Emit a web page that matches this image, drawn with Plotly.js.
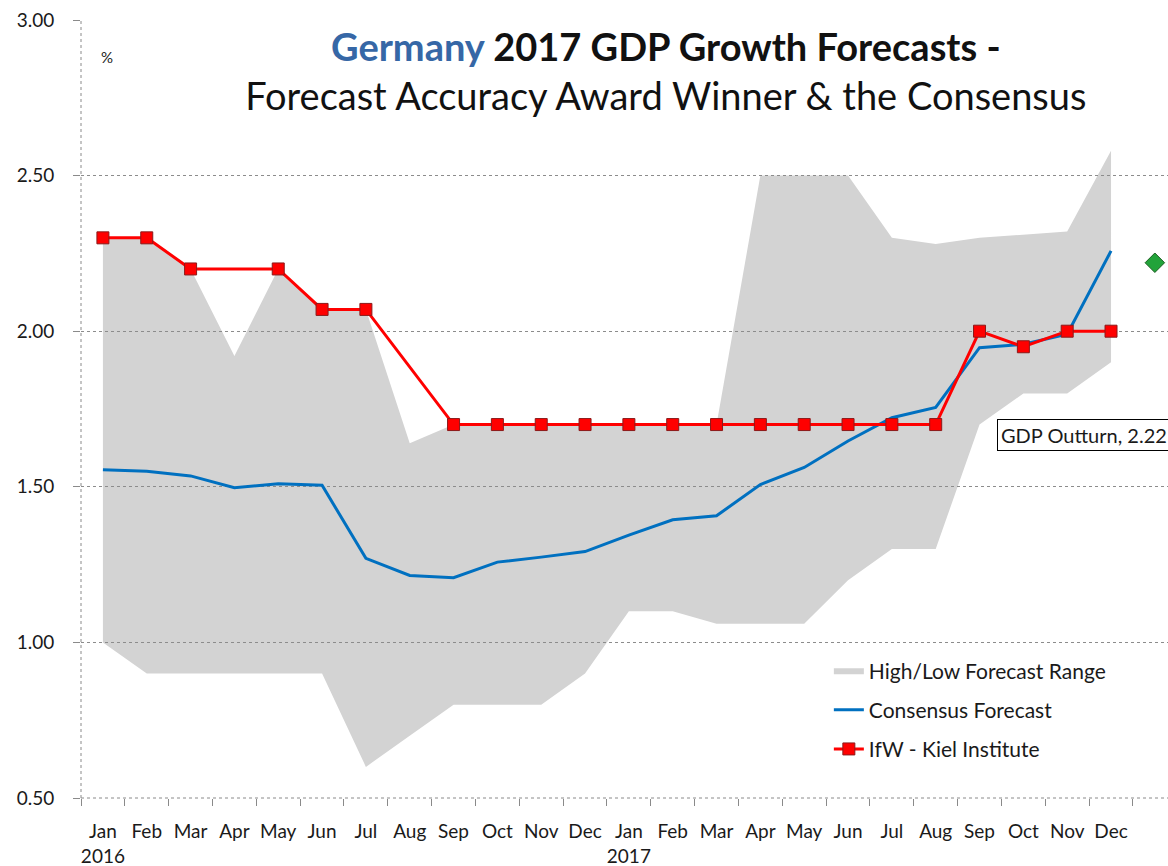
<!DOCTYPE html>
<html>
<head>
<meta charset="utf-8">
<script src="https://cdn.plot.ly/plotly-3.0.1.min.js"></script>
<style>html,body{margin:0;padding:0;background:#fff;}#chart{width:1168px;height:866px;}</style>
</head>
<body>
<div id="chart"></div>
<script>
// ---- data ----
var months = ['Jan','Feb','Mar','Apr','May','Jun','Jul','Aug','Sep','Oct','Nov','Dec',
              'Jan','Feb','Mar','Apr','May','Jun','Jul','Aug','Sep','Oct','Nov','Dec'];
var yearLabels = {0: '2016', 12: '2017'};
var rangeHigh = [2.30,2.30,2.20,1.92,2.20,2.07,2.07,1.64,1.70,1.70,1.70,1.70,
                 1.70,1.70,1.70,2.50,2.50,2.50,2.30,2.28,2.30,2.31,2.32,2.58];
var rangeLow  = [1.00,0.90,0.90,0.90,0.90,0.90,0.60,0.70,0.80,0.80,0.80,0.90,
                 1.10,1.10,1.06,1.06,1.06,1.20,1.30,1.30,1.70,1.80,1.80,1.90];
var consensus = [1.555,1.550,1.535,1.497,1.510,1.505,1.270,1.215,1.208,1.258,1.274,1.292,
                 1.345,1.394,1.407,1.507,1.562,1.647,1.722,1.755,1.947,1.958,1.990,2.258];
var ifw       = [2.30,2.30,2.20,null,2.20,2.07,2.07,null,1.70,1.70,1.70,1.70,
                 1.70,1.70,1.70,1.70,1.70,1.70,1.70,1.70,2.00,1.95,2.00,2.00];
var gdpOutturn = 2.22;
var yTicks = [0.50,1.00,1.50,2.00,2.50,3.00];

// ---- build ----
var idx = months.map(function(_, i){ return i; });
var outturnIdx = months.length;
var tickText = months.map(function(m, i){ return yearLabels[i] ? m + '<br>' + yearLabels[i] : m; });
var boundaries = [];
for (var b = 0; b <= months.length + 1; b++) boundaries.push(b - 0.5);

var polyX = idx.concat(idx.slice().reverse());
var polyY = rangeHigh.concat(rangeLow.slice().reverse());

var FONT = 'Lato, "Open Sans", sans-serif';

var traces = [
  {
    x: polyX, y: polyY, xaxis: 'x', yaxis: 'y',
    type: 'scatter', mode: 'lines', fill: 'toself',
    fillcolor: '#d3d3d3', line: {width: 0, color: '#d3d3d3'},
    name: 'High/Low Forecast Range', legendgroup: 'g1', hoverinfo: 'skip'
  },
  {
    x: idx, y: consensus, xaxis: 'x2', yaxis: 'y2',
    type: 'scatter', mode: 'lines',
    line: {color: '#0070c0', width: 3},
    name: 'Consensus Forecast', legendgroup: 'g2'
  },
  {
    x: idx, y: ifw, xaxis: 'x2', yaxis: 'y2',
    type: 'scatter', mode: 'lines+markers', connectgaps: true,
    line: {color: '#ff0000', width: 3},
    marker: {symbol: 'square', size: 12, color: '#ff0000', line: {color: '#8b1a1a', width: 1}},
    name: 'IfW - Kiel Institute', legendgroup: 'g3'
  },
  {
    x: [outturnIdx], y: [gdpOutturn], xaxis: 'x2', yaxis: 'y2',
    type: 'scatter', mode: 'markers',
    marker: {symbol: 'diamond', size: 15, color: '#22a33a', line: {color: '#1d5e22', width: 1}},
    name: 'GDP Outturn', showlegend: false
  }
];

var xr = [-0.5, 24.3];
var yr = [0.5, 3.0];

var layout = {
  width: 1168, height: 866,
  margin: {l: 81, r: 0, t: 20, b: 68},
  paper_bgcolor: '#ffffff',
  plot_bgcolor: 'rgba(0,0,0,0)',
  font: {family: FONT, color: '#1a1a1a'},
  showlegend: true,
  title: {
    text: '<b><span style="color:#3667a6">Germany</span> 2017 GDP Growth Forecasts -</b><br>Forecast Accuracy Award Winner &amp; the Consensus',
    font: {family: FONT, size: 38, color: '#111111'},
    x: 0.538, xanchor: 'center', xref: 'paper',
    y: 0.93, yanchor: 'top', yref: 'container'
  },
  xaxis: {
    range: xr, tickmode: 'array', tickvals: boundaries, showticklabels: false,
    ticks: 'outside', ticklen: 7, tickcolor: '#8a8a8a', tickwidth: 1,
    showgrid: false, zeroline: false, showline: false, fixedrange: true
  },
  yaxis: {
    range: yr, showticklabels: false, ticks: '', showgrid: false,
    zeroline: false, showline: false, fixedrange: true
  },
  xaxis2: {
    anchor: 'y2', range: xr, tickmode: 'array', tickvals: idx, ticktext: tickText,
    ticks: '', showgrid: false, zeroline: false, showline: false,
    tickfont: {family: FONT, size: 19, color: '#1a1a1a'},
    ticklabelstandoff: 20, fixedrange: true
  },
  yaxis2: {
    anchor: 'x2', range: yr, tickmode: 'array', tickvals: yTicks, tickformat: '.2f',
    ticks: 'outside', ticklen: 7, tickcolor: '#8a8a8a',
    showgrid: true, gridcolor: '#8c8c8c', griddash: 'dot', gridwidth: 1,
    zeroline: false, showline: false,
    tickfont: {family: FONT, size: 19, color: '#1a1a1a'},
    ticklabelstandoff: 15, fixedrange: true
  },
  legend: {
    x: 0.688, y: 0.19, xanchor: 'left', yanchor: 'top',
    bgcolor: 'rgba(0,0,0,0)', borderwidth: 0,
    font: {family: FONT, size: 21, color: '#1a1a1a'},
    traceorder: 'grouped', tracegroupgap: 9
  },
  shapes: [
    {type: 'line', xref: 'paper', yref: 'paper', x0: 0, x1: 0, y0: 0, y1: 1,
     line: {color: '#8a8a8a', width: 1, dash: 'dot'}},
    {type: 'line', xref: 'paper', yref: 'paper', x0: 0, x1: 1, y0: 0, y1: 0,
     line: {color: '#8a8a8a', width: 1, dash: 'dot'}}
  ],
  annotations: [
    {text: '%', xref: 'paper', yref: 'paper', x: 0.024, y: 0.952,
     xanchor: 'center', yanchor: 'middle', showarrow: false,
     font: {family: FONT, size: 15, color: '#222'}},
    {text: 'GDP Outturn, ' + gdpOutturn.toFixed(2), xref: 'paper', yref: 'paper',
     x: 0.843, y: 0.467, xanchor: 'left', yanchor: 'middle', showarrow: false,
     bgcolor: '#ffffff', bordercolor: '#000000', borderwidth: 1, borderpad: 3,
     font: {family: FONT, size: 20, color: '#1a1a1a'}}
  ]
};

Plotly.newPlot('chart', traces, layout, {displayModeBar: false, staticPlot: true});
</script>
</body>
</html>
